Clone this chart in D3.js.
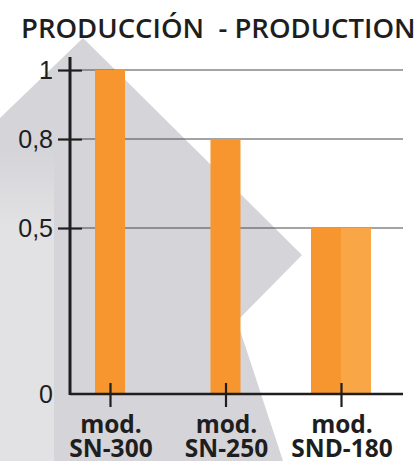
<!DOCTYPE html>
<html>
<head>
<meta charset="utf-8">
<script src="https://cdn.jsdelivr.net/npm/d3@7"></script>
<style>
  html, body { margin: 0; padding: 0; background: #fff; }
  svg { display: block; font-family: "Open Sans", "Noto Sans", sans-serif; }
</style>
</head>
<body>
<div class="vis"></div>
<script>
const title = "PRODUCCIÓN  - PRODUCTION";
const models = ["SN-300", "SN-250", "SND-180"];
const production = [1, 0.8, 0.5];
const yTicks = [0, 0.5, 0.8, 1];
const yTickLabels = ["0", "0,5", "0,8", "1"];

const W = 417, H = 461;

const svg = d3.select(".vis").append("svg")
  .attr("width", W)
  .attr("height", H);

const grad = svg.append("defs").append("linearGradient")
  .attr("id", "fade")
  .attr("x1", 0).attr("y1", 0).attr("x2", 0).attr("y2", 1);
grad.append("stop").attr("offset", "0%").attr("stop-color", "#e2e2e4").attr("stop-opacity", 0);
grad.append("stop").attr("offset", "25%").attr("stop-color", "#e2e2e4").attr("stop-opacity", 1);
grad.append("stop").attr("offset", "100%").attr("stop-color", "#e2e2e4").attr("stop-opacity", 1);

// grey chevron in the background
svg.append("polygon")
  .attr("points", "0,118 83,38 302,255 237,321 283,461 0,461")
  .attr("fill", "#d5d4d8");
svg.append("rect")
  .attr("x", 0).attr("y", 150)
  .attr("width", 54).attr("height", H - 150)
  .attr("fill", "url(#fade)");

// the printed axis is not evenly spaced, so a piecewise scale
const y = d3.scaleLinear()
  .domain(yTicks)
  .range([394, 228, 139, 70]);

const x = d3.scalePoint()
  .domain(models)
  .range([110, 341]);

const barW = 30;

// gridlines
svg.append("g")
  .selectAll("line")
  .data(yTicks.filter(d => d > 0))
  .join("line")
  .attr("x1", 82).attr("x2", 403)
  .attr("y1", d => y(d)).attr("y2", d => y(d))
  .attr("stroke", "#4a4a4a")
  .attr("stroke-width", 1.2);

// bars; the last model is drawn as a double-width bar in two tones
const bars = [];
models.forEach((m, i) => {
  if (i === models.length - 1) {
    bars.push({ m, v: production[i], x0: x(m) - barW, c: "#f7952e" });
    bars.push({ m, v: production[i], x0: x(m), c: "#f9a746" });
  } else {
    bars.push({ m, v: production[i], x0: x(m) - barW / 2, c: "#f7952e" });
  }
});

svg.append("g")
  .selectAll("rect")
  .data(bars)
  .join("rect")
  .attr("x", d => d.x0)
  .attr("y", d => y(d.v))
  .attr("width", barW)
  .attr("height", d => y(0) - y(d.v))
  .attr("fill", d => d.c);

// y axis
const yAxis = g => g
  .attr("transform", "translate(70,0)")
  .call(d3.axisLeft(y)
    .tickValues(yTicks)
    .tickFormat((d, i) => yTickLabels[i])
    .tickSize(12)
    .tickSizeOuter(0))
  .call(g => g.select(".domain").remove())
  .call(g => g.selectAll(".tick line")
    .attr("x2", -12).attr("x1", 12)
    .attr("stroke", "#1e1e1e").attr("stroke-width", 2.2))
  .call(g => g.selectAll(".tick").filter(d => d === 0).select("line").remove())
  .call(g => g.selectAll(".tick text")
    .attr("x", -17)
    .attr("fill", "#1e1e1e")
    .style("font-size", "25px"));

svg.append("g").call(yAxis);

svg.append("line")
  .attr("x1", 70).attr("x2", 70)
  .attr("y1", 57).attr("y2", y(0) + 1)
  .attr("stroke", "#1e1e1e").attr("stroke-width", 3);

// x axis
svg.append("line")
  .attr("x1", 70).attr("x2", 403)
  .attr("y1", y(0)).attr("y2", y(0))
  .attr("stroke", "#1e1e1e").attr("stroke-width", 2.6);

const xAxis = g => g
  .attr("transform", `translate(0,${y(0)})`)
  .call(d3.axisBottom(x).tickSize(13).tickFormat(""))
  .call(g => g.select(".domain").remove())
  .call(g => g.selectAll(".tick line")
    .attr("y1", -11)
    .attr("stroke", "#1e1e1e").attr("stroke-width", 2.2));

svg.append("g").call(xAxis);

const labels = svg.append("g")
  .selectAll("text")
  .data(models)
  .join("text")
  .attr("text-anchor", "middle")
  .attr("fill", "#1e1e1e")
  .style("font-weight", 700)
  .style("font-size", "24.5px");

labels.append("tspan")
  .attr("x", d => x(d) + 1)
  .attr("y", 433)
  .text("mod.");
labels.append("tspan")
  .attr("x", d => x(d) + 1)
  .attr("y", 457)
  .text(d => d);

// title
svg.append("text")
  .attr("x", 21)
  .attr("y", 38)
  .attr("fill", "#1e1e1e")
  .style("font-weight", 600)
  .style("font-size", "27.5px")
  .style("white-space", "pre")
  .attr("xml:space", "preserve")
  .text(title);
</script>
</body>
</html>
